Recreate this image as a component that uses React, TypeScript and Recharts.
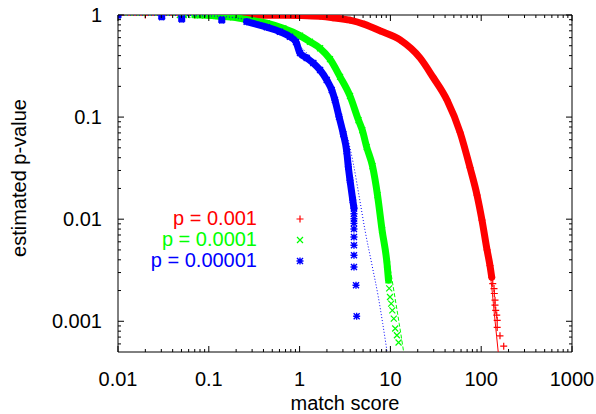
import { ComposedChart, Scatter, XAxis, YAxis, ReferenceArea, Legend, Label } from 'recharts';

const W = 596;
const H = 414;
const PLOT = { left: 118, right: 572, top: 15, bottom: 352 };
const FONT = '"Liberation Sans", Arial, Helvetica, sans-serif';

const RED = '#ff0000';
const GREEN = '#00ff00';
const BLUE = '#0000ff';

const X_DOMAIN = [0.01, 1000];
const Y_DOMAIN = [0.0005, 1];
const X_MAJOR = [0.01, 0.1, 1, 10, 100, 1000];
const X_LABELS = ['0.01', '0.1', '1', '10', '100', '1000'];
const Y_MAJOR = [0.001, 0.01, 0.1, 1];
const Y_LABELS = ['0.001', '0.01', '0.1', '1'];
const SERIES_LABELS = ['p = 0.001', 'p = 0.0001', 'p = 0.00001'];

// [match score, estimated p-value]
const RED_SPARSE = [[0.01, 1], [0.02, 1], [0.07, 1], [0.085, 1]];
const RED_BAND = [
  [0.1, 1], [0.2, 1], [0.4, 0.995], [0.7, 0.995], [1.0, 0.99], [1.68, 0.97], [2.33, 0.94],
  [3.59, 0.89], [5.2, 0.81], [7.67, 0.7], [12.8, 0.57], [21.2, 0.38], [29.4, 0.247],
  [42, 0.147], [58.5, 0.071], [75.3, 0.032], [90, 0.0172], [102, 0.0098], [116, 0.005],
  [125, 0.0035], [130.6, 0.0027],
];
const RED_TAIL = [
  [134, 0.00234], [138.4, 0.00209], [139.4, 0.00187], [141.9, 0.00161], [141.9, 0.00144],
  [144.5, 0.00128], [148.3, 0.00115], [150, 0.00102], [150, 0.00087], [161, 0.00072], [177, 0.00057],
];
const RED_FIT = [
  [0.01, 1], [1, 0.995], [2.33, 0.945], [3.59, 0.89], [7.67, 0.7], [12.8, 0.57], [21.2, 0.38],
  [29.4, 0.247], [42, 0.147], [58.5, 0.071], [75.3, 0.032], [90, 0.0172], [102, 0.0098],
  [116, 0.005], [130.6, 0.00217], [141.9, 0.00102], [154, 0.0005],
];

const GREEN_SPARSE = [[0.01, 1], [0.048, 1], [0.053, 1], [0.058, 1]];
const GREEN_BAND = [
  [0.07, 1], [0.08, 1], [0.12, 0.98], [0.186, 0.95], [0.284, 0.89], [0.435, 0.83], [0.661, 0.74],
  [1.01, 0.627], [1.3, 0.547], [1.68, 0.472], [2.16, 0.37], [2.79, 0.248], [3.59, 0.161],
  [4.45, 0.0935], [4.9, 0.0746], [5.48, 0.0508], [6.35, 0.0331], [7.21, 0.0172], [8.1, 0.0078],
  [9.2, 0.0036], [9.53, 0.00252],
];
const GREEN_TAIL = [
  [9.7, 0.0021], [9.9, 0.00173], [10.2, 0.00149], [10.5, 0.00128], [10.9, 0.00106],
  [11.3, 0.00085], [11.8, 0.00073], [12.3, 0.00062],
];
const GREEN_FIT = [
  [0.01, 1], [0.08, 0.995], [0.186, 0.95], [0.435, 0.83], [1.01, 0.627], [1.68, 0.472],
  [2.79, 0.248], [3.59, 0.161], [4.9, 0.0746], [6.35, 0.0331], [7.55, 0.0165], [8.36, 0.0078],
  [9.73, 0.00368], [11.2, 0.00173], [12.5, 0.00095], [14.0, 0.0005],
];

const BLUE_SPARSE = [[0.01, 1], [0.0303, 0.962], [0.0503, 0.914], [0.139, 0.893]];
const BLUE_BAND = [
  [0.261, 0.86], [0.435, 0.758], [0.608, 0.686], [0.783, 0.613], [0.913, 0.544], [1.01, 0.424],
  [1.197, 0.379], [1.416, 0.338], [1.68, 0.289], [1.99, 0.231], [2.26, 0.184], [2.45, 0.147],
  [2.72, 0.1007], [3.03, 0.0682], [3.3, 0.0464], [3.44, 0.0326], [3.59, 0.0241], [3.85, 0.0154],
  [3.97, 0.0128],
];
const BLUE_TAIL = [
  [3.97, 0.0113], [3.97, 0.0101], [3.97, 0.0091], [3.97, 0.008], [3.97, 0.0067], [3.97, 0.00556],
  [3.97, 0.00444], [3.97, 0.0034], [4.18, 0.00225], [4.25, 0.00112],
];
const BLUE_FIT = [
  [0.01, 1], [0.1, 0.98], [0.26, 0.9], [0.6, 0.72], [1.0, 0.5], [1.4, 0.36], [2.0, 0.22],
  [2.45, 0.15], [2.85, 0.1], [3.35, 0.0641], [3.9, 0.0352], [4.54, 0.0165], [5.25, 0.0078],
  [6.22, 0.00368], [7.36, 0.00173], [8.23, 0.00095], [9.2, 0.0005],
];

const toPts = (arr: number[][]) => arr.map(([x, y]) => ({ x, y }));

function minorTicks(decades: number[], lo: number, hi: number) {
  const out: number[] = [];
  decades.forEach((d) => {
    for (let k = 2; k <= 9; k++) {
      const v = +(d * k).toPrecision(3);
      if (v > lo && v < hi) out.push(v);
    }
  });
  return out;
}

const X_TICKS = [...X_MAJOR, ...minorTicks([0.01, 0.1, 1, 10, 100], X_DOMAIN[0], X_DOMAIN[1])].sort((a, b) => a - b);
const Y_TICKS = [...Y_MAJOR, ...minorTicks([0.0001, 0.001, 0.01, 0.1], Y_DOMAIN[0], Y_DOMAIN[1])].sort((a, b) => a - b);

function XTick(props: any) {
  const { x, payload } = props;
  const i = X_MAJOR.indexOf(payload.value);
  const len = i >= 0 ? 6 : 3;
  return (
    <g>
      <line x1={x} x2={x} y1={PLOT.bottom} y2={PLOT.bottom - len} stroke="#000" />
      <line x1={x} x2={x} y1={PLOT.top} y2={PLOT.top + len} stroke="#000" />
      {i >= 0 && (
        <text x={x} y={PLOT.bottom + 34} textAnchor="middle" fontSize={20} fill="#000" fontFamily={FONT}>
          {X_LABELS[i]}
        </text>
      )}
    </g>
  );
}

function YTick(props: any) {
  const { y, payload } = props;
  const i = Y_MAJOR.indexOf(payload.value);
  const len = i >= 0 ? 6 : 3;
  return (
    <g>
      <line x1={PLOT.left} x2={PLOT.left + len} y1={y} y2={y} stroke="#000" />
      <line x1={PLOT.right} x2={PLOT.right - len} y1={y} y2={y} stroke="#000" />
      {i >= 0 && (
        <text x={PLOT.left - 16} y={y + 7} textAnchor="end" fontSize={20} fill="#000" fontFamily={FONT}>
          {Y_LABELS[i]}
        </text>
      )}
    </g>
  );
}

// gnuplot-like point types: 1 (+), 2 (x), 3 (*)
const plus = (color: string) => (p: any) => (
  <path d={`M${p.cx - 3.5} ${p.cy}H${p.cx + 3.5}M${p.cx} ${p.cy - 3.5}V${p.cy + 3.5}`} stroke={color} strokeWidth={1.2} fill="none" />
);
const cross = (color: string) => (p: any) => (
  <path d={`M${p.cx - 3} ${p.cy - 3}L${p.cx + 3} ${p.cy + 3}M${p.cx - 3} ${p.cy + 3}L${p.cx + 3} ${p.cy - 3}`} stroke={color} strokeWidth={1.2} fill="none" />
);
const star = (color: string, w = 1.4) => (p: any) => (
  <path
    d={`M${p.cx - 3.5} ${p.cy}H${p.cx + 3.5}M${p.cx} ${p.cy - 3.5}V${p.cy + 3.5}M${p.cx - 3} ${p.cy - 3}L${p.cx + 3} ${p.cy + 3}M${p.cx - 3} ${p.cy + 3}L${p.cx + 3} ${p.cy - 3}`}
    stroke={color}
    strokeWidth={w}
    fill="none"
  />
);
const noDot = () => <g />;

const MARKERS = [plus, cross, star];
const COLORS = [RED, GREEN, BLUE];

function KeyBox() {
  return (
    <div style={{ fontFamily: FONT, fontSize: 20 }}>
      {SERIES_LABELS.map((label, i) => (
        <div key={label} style={{ display: 'flex', alignItems: 'center', height: 21 }}>
          <div style={{ width: 167, textAlign: 'right', color: COLORS[i], whiteSpace: 'nowrap' }}>{label}</div>
          <svg width={14} height={14} style={{ marginLeft: 36 }}>
            {MARKERS[i](COLORS[i])({ cx: 7, cy: 7 })}
          </svg>
        </div>
      ))}
    </div>
  );
}

const bandLine = (color: string) => ({ stroke: color, strokeWidth: 7, strokeLinejoin: 'round', strokeLinecap: 'round' });

export default function App() {
  return (
    <div style={{ position: 'absolute', left: 0, top: 0, width: W, height: H, background: '#fff' }}>
      <ComposedChart
        width={W}
        height={H}
        margin={{ top: PLOT.top, right: W - PLOT.right, bottom: 0, left: 0 }}
        style={{ fontFamily: FONT }}
      >
        <XAxis
          dataKey="x"
          type="number"
          scale="log"
          domain={X_DOMAIN}
          allowDataOverflow
          ticks={X_TICKS}
          interval={0}
          height={H - PLOT.bottom}
          tickSize={0}
          tickMargin={0}
          axisLine={false}
          tickLine={false}
          tick={<XTick />}
        >
          <Label
            content={() => (
              <text x={(PLOT.left + PLOT.right) / 2} y={H - 4} textAnchor="middle" fontSize={20} fill="#000" fontFamily={FONT}>
                match score
              </text>
            )}
          />
        </XAxis>
        <YAxis
          dataKey="y"
          type="number"
          scale="log"
          domain={Y_DOMAIN}
          allowDataOverflow
          ticks={Y_TICKS}
          interval={0}
          width={PLOT.left}
          tickSize={0}
          tickMargin={0}
          axisLine={false}
          tickLine={false}
          tick={<YTick />}
        >
          <Label
            content={() => (
              <text
                x={26}
                y={178}
                transform="rotate(-90 26 178)"
                textAnchor="middle"
                fontSize={20}
                fill="#000"
                fontFamily={FONT}
              >
                estimated p-value
              </text>
            )}
          />
        </YAxis>
        <ReferenceArea x1={X_DOMAIN[0]} x2={X_DOMAIN[1]} y1={Y_DOMAIN[0]} y2={Y_DOMAIN[1]} fill="none" stroke="#000" strokeWidth={1} />

        <Scatter data={toPts(RED_SPARSE)} fill={RED} shape={plus(RED)} isAnimationActive={false} />
        <Scatter data={toPts(RED_BAND)} fill={RED} shape={plus(RED)} line={bandLine(RED)} lineJointType="monotoneX" isAnimationActive={false} />
        <Scatter data={toPts(RED_TAIL)} fill={RED} shape={plus(RED)} isAnimationActive={false} />
        <Scatter data={toPts(RED_FIT)} fill={RED} shape={noDot} line={{ stroke: RED, strokeWidth: 1 }} lineJointType="monotoneX" isAnimationActive={false} />

        <Scatter data={toPts(GREEN_SPARSE)} fill={GREEN} shape={cross(GREEN)} isAnimationActive={false} />
        <Scatter data={toPts(GREEN_BAND)} fill={GREEN} shape={cross(GREEN)} line={bandLine(GREEN)} lineJointType="monotoneX" isAnimationActive={false} />
        <Scatter data={toPts(GREEN_TAIL)} fill={GREEN} shape={cross(GREEN)} isAnimationActive={false} />
        <Scatter data={toPts(GREEN_FIT)} fill={GREEN} shape={noDot} line={{ stroke: GREEN, strokeWidth: 1, strokeDasharray: '4 2' }} lineJointType="monotoneX" isAnimationActive={false} />

        <Scatter data={toPts(BLUE_SPARSE)} fill={BLUE} shape={star(BLUE, 2.6)} isAnimationActive={false} />
        <Scatter data={toPts(BLUE_BAND)} fill={BLUE} shape={star(BLUE)} line={bandLine(BLUE)} lineJointType="monotoneX" isAnimationActive={false} />
        <Scatter data={toPts(BLUE_TAIL)} fill={BLUE} shape={star(BLUE)} isAnimationActive={false} />
        <Scatter data={toPts(BLUE_FIT)} fill={BLUE} shape={noDot} line={{ stroke: BLUE, strokeWidth: 1, strokeDasharray: '1 2' }} lineJointType="monotoneX" isAnimationActive={false} />

        <Legend
          layout="horizontal"
          verticalAlign="middle"
          align="center"
          wrapperStyle={{ left: 90, top: 208, width: 230, height: 63 }}
          content={() => <KeyBox />}
        />
      </ComposedChart>
    </div>
  );
}
